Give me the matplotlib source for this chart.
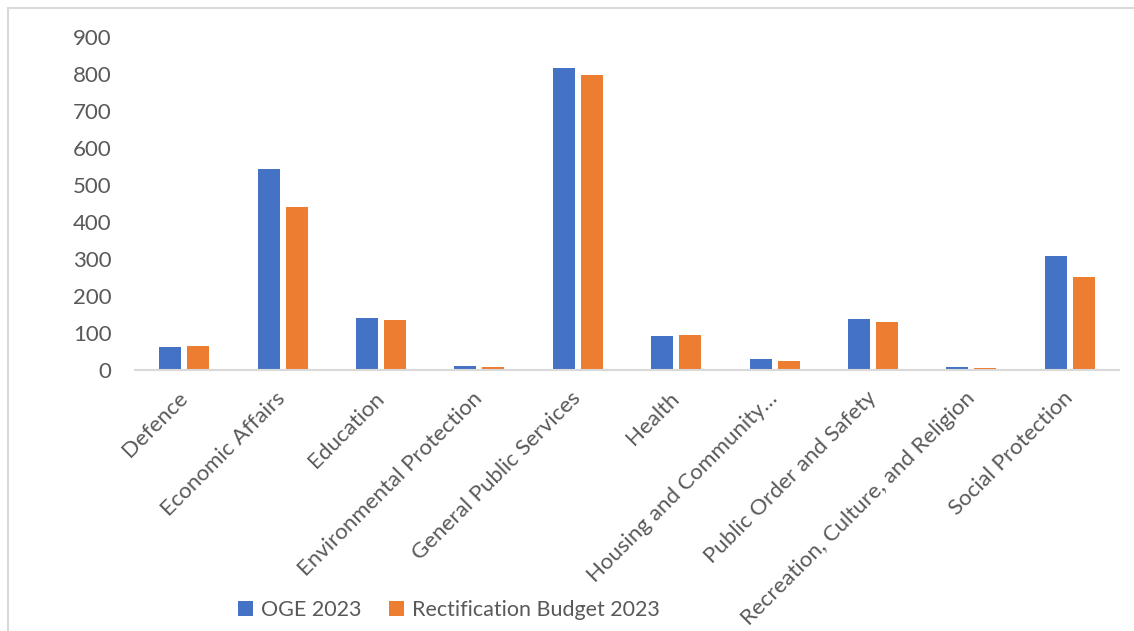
import matplotlib
matplotlib.use("Agg")
import matplotlib.pyplot as plt
import matplotlib.transforms as mtransforms
import numpy as np
from matplotlib.patches import Rectangle

categories = [
    "Defence", "Economic Affairs", "Education", "Environmental Protection",
    "General Public Services", "Health", "Housing and Community\u2026",
    "Public Order and Safety", "Recreation, Culture, and Religion",
    "Social Protection",
]
oge_2023 = [62, 542, 140, 12, 815, 92, 29, 139, 8, 307]
rectification_2023 = [64, 440, 135, 9, 796, 94, 23, 130, 6, 252]
series_names = ["OGE 2023", "Rectification Budget 2023"]
y_ticks = [0, 100, 200, 300, 400, 500, 600, 700, 800, 900]

BLUE = "#4472C4"
ORANGE = "#ED7D31"
TEXT = "#595959"
LINE = "#D9D9D9"

plt.rcParams["font.family"] = ["Lato", "DejaVu Sans"]

W, H = 1134, 631
fig = plt.figure(figsize=(W / 100, H / 100), dpi=100)
ax = fig.add_axes([135 / W, 1 - 370 / H, (1119 - 135) / W, (370 - 37) / H])

x = np.arange(len(categories))
bw = 0.225
off = 0.142
ax.bar(x - off, oge_2023, bw, color=BLUE, label=series_names[0])
ax.bar(x + off, rectification_2023, bw, color=ORANGE, label=series_names[1])

ax.set_xlim(-0.5, len(categories) - 0.5)
ax.set_ylim(0, 900)
ax.set_yticks(y_ticks)
ax.set_yticklabels([str(v) for v in y_ticks], fontsize=16, color=TEXT)
ax.set_xticks(x)
ax.set_xticklabels(categories, rotation=45, ha="right", va="top",
                   rotation_mode="default", fontsize=16, color=TEXT)
ax.tick_params(axis="y", length=0, pad=17)
ax.tick_params(axis="x", length=0, pad=13)

# nudge the slanted category labels so their ends sit under each group
shift = mtransforms.ScaledTranslation(7 / 100, 0, fig.dpi_scale_trans)
for lbl in ax.get_xticklabels():
    lbl.set_transform(lbl.get_transform() + shift)

for side in ["top", "right", "left"]:
    ax.spines[side].set_visible(False)
ax.spines["bottom"].set_color(LINE)
ax.spines["bottom"].set_linewidth(1.5)

leg = fig.legend(loc="center left", bbox_to_anchor=(238 / W, 1 - 610 / H),
                 ncol=2, frameon=False, fontsize=15.5, handlelength=0.7,
                 handleheight=0.7, handletextpad=0.35, columnspacing=1.3,
                 borderaxespad=0, borderpad=0)
for t in leg.get_texts():
    t.set_color(TEXT)

# chart area outline
fig.add_artist(Rectangle((8 / W, -0.1), 1.2, 1.1 - 8 / H,
                         transform=fig.transFigure, fill=False,
                         edgecolor=LINE, linewidth=1.5, clip_on=False))

fig.savefig("out.png", dpi=100, facecolor="white")
